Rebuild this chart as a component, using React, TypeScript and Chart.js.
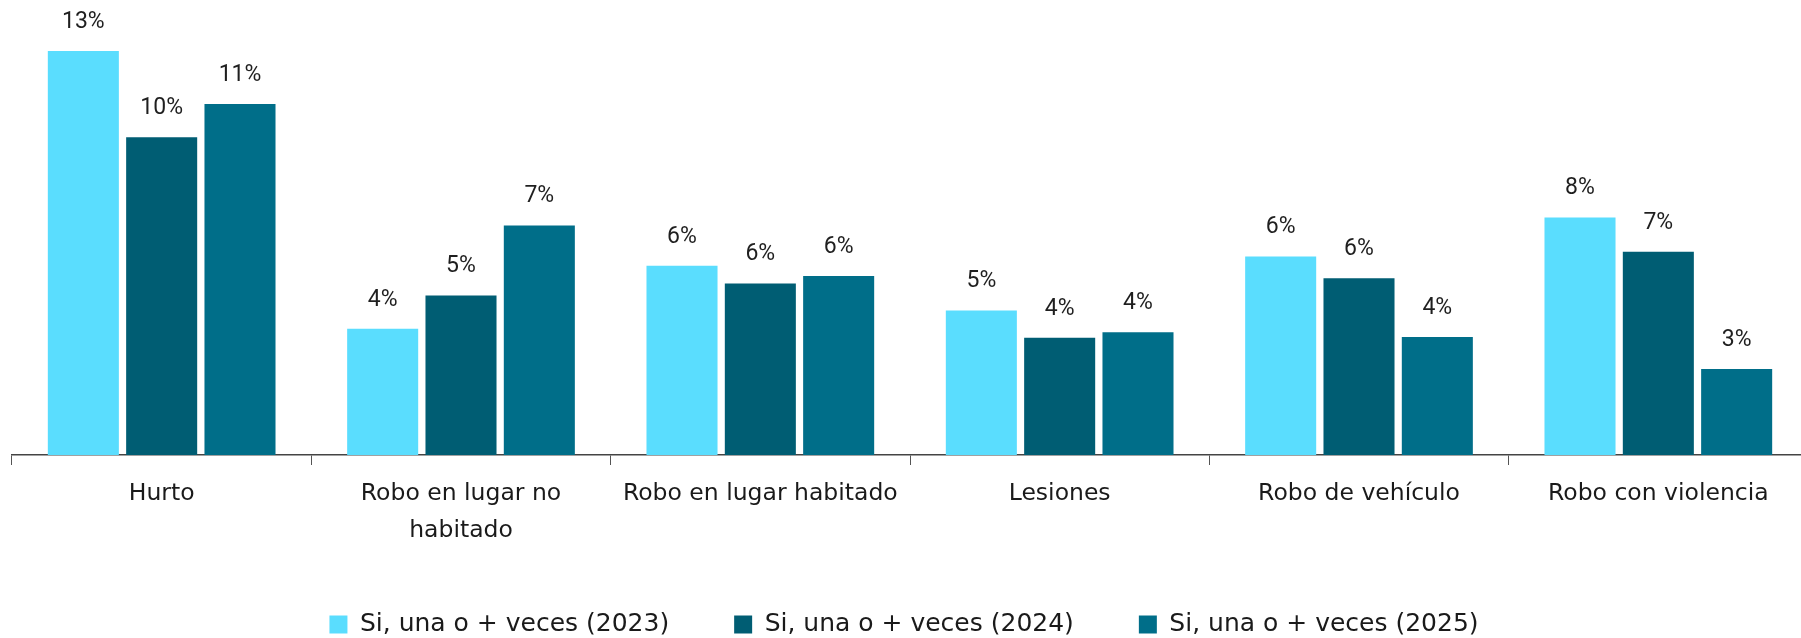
import React, { useEffect, useRef } from "react";
import { Chart, registerables } from "chart.js";

Chart.register(...registerables);

const categories = [
  "Hurto",
  "Robo en lugar no habitado",
  "Robo en lugar habitado",
  "Lesiones",
  "Robo de vehículo",
  "Robo con violencia",
];

const tickLabels: (string | string[])[] = [
  "Hurto",
  ["Robo en lugar no", "habitado"],
  "Robo en lugar habitado",
  "Lesiones",
  "Robo de vehículo",
  "Robo con violencia",
];

const seriesNames = [
  "Si, una o + veces (2023)",
  "Si, una o + veces (2024)",
  "Si, una o + veces (2025)",
];

const values2023 = [13.0, 4.06, 6.09, 4.65, 6.39, 7.64];
const values2024 = [10.23, 5.13, 5.52, 3.77, 5.69, 6.54];
const values2025 = [11.3, 7.39, 5.76, 3.95, 3.8, 2.77];

const colors = ["#5ADDFE", "#005D73", "#006E89"];

const dataLabelPlugin = {
  id: "dataLabels",
  afterDatasetsDraw(chart: any) {
    const ctx = chart.ctx;
    ctx.save();
    ctx.font = "23px Roboto";
    ctx.fillStyle = "#1f1f1f";
    ctx.textAlign = "center";
    ctx.textBaseline = "middle";
    chart.data.datasets.forEach((ds: any, i: number) => {
      const meta = chart.getDatasetMeta(i);
      meta.data.forEach((bar: any, j: number) => {
        const v = ds.data[j];
        ctx.fillText(`${Math.round(v)}%`, bar.x, bar.y - 29);
      });
    });
    ctx.restore();
  },
};

export default function App() {
  const ref = useRef<HTMLCanvasElement | null>(null);

  useEffect(() => {
    if (!ref.current) return;
    const chart = new Chart(ref.current, {
      type: "bar",
      data: {
        labels: tickLabels as any,
        datasets: [values2023, values2024, values2025].map((d, i) => ({
          label: seriesNames[i],
          data: d,
          backgroundColor: colors[i],
          borderWidth: 0,
          barPercentage: 0.907,
          categoryPercentage: 0.785,
        })),
      },
      options: {
        animation: false,
        responsive: false,
        devicePixelRatio: 1,
        layout: { padding: { top: 20, left: 0, right: 0, bottom: 0 } },
        plugins: {
          tooltip: { enabled: false },
          legend: {
            display: true,
            position: "bottom",
            align: "center",
            labels: {
              boxWidth: 18,
              boxHeight: 18,
              padding: 65,
              color: "#1a1a1a",
              font: { family: "'DejaVu Sans'", size: 25 },
            },
          },
        },
        scales: {
          x: {
            offset: true,
            grid: {
              display: true,
              offset: true,
              drawOnChartArea: false,
              drawTicks: true,
              tickLength: 10,
              color: "#555555",
              lineWidth: 1,
            },
            border: { display: true, color: "#444444", width: 1.5 },
            ticks: {
              color: "#1a1a1a",
              padding: 11,
              maxRotation: 0,
              autoSkip: false,
              font: { family: "'DejaVu Sans'", size: 23.5, lineHeight: 1.55 },
            },
            afterFit(scale: any) {
              scale.height = 92;
            },
          },
          y: {
            min: 0,
            max: 14,
            grid: { display: false },
            border: { display: false },
            ticks: { display: false },
            afterFit(scale: any) {
              scale.width = 12;
            },
          },
        },
      },
      plugins: [dataLabelPlugin],
    });
    return () => chart.destroy();
  }, []);

  return (
    <div
      style={{
        position: "absolute",
        top: 0,
        left: 0,
        width: 1801,
        height: 638,
        overflow: "hidden",
        background: "#ffffff",
      }}
    >
      <canvas ref={ref} width={1808} height={647} style={{ display: "block" }} />
    </div>
  );
}
